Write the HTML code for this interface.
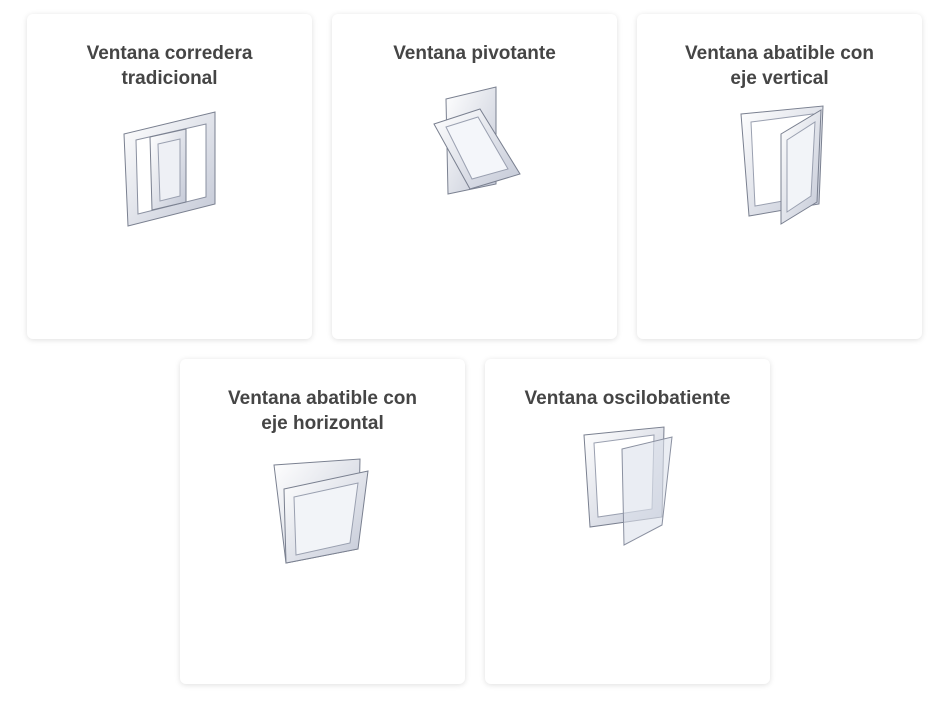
<!DOCTYPE html>
<html><head><meta charset="utf-8"><style>
body{margin:0;width:947px;height:709px;background:#fff;position:relative;overflow:hidden;font-family:"Liberation Sans",sans-serif}
.c{position:absolute;width:285px;height:325px;background:#fff;border-radius:6px;box-shadow:0 1px 6px rgba(0,0,0,.13)}
.t{position:absolute;top:27px;left:0;right:0;text-align:center;font-weight:bold;font-size:19px;line-height:25px;color:#454545}
svg{position:absolute}
</style></head><body>
<svg width="0" height="0"><defs><linearGradient id="g" x1="0" y1="0" x2="1" y2="1"><stop offset="0" stop-color="#fff"/><stop offset="1" stop-color="#c3c8d6"/></linearGradient></defs></svg>

<div class="c" style="left:27px;top:14px"><div class="t">Ventana corredera<br>tradicional</div>
<svg style="left:93px;top:90px" width="100" height="125"><path d="M4,30 L95,8 L95,100 L8,122 Z" fill="url(#g)" stroke="#7a8090"/><path d="M16,36 L86,20 L86,93 L18,110 Z" fill="#fff" stroke="#8a90a0"/><path d="M30,33 L66,25 L66,98 L32,106 Z" fill="url(#g)" stroke="#7a8090"/><path d="M38,40 L60,35 L60,92 L40,97 Z" fill="#eef0f5" stroke="#9aa0b0"/></svg></div>

<div class="c" style="left:332px;top:14px"><div class="t">Ventana pivotante</div>
<svg style="left:98px;top:65px" width="95" height="125"><path d="M16,20 L66,8 L66,105 L18,115 Z" fill="url(#g)" stroke="#7a8090"/><path d="M4,45 L50,30 L90,95 L40,110 Z" fill="url(#g)" stroke="#7a8090"/><path d="M16,48 L48,38 L78,90 L42,100 Z" fill="#f4f6fa" stroke="#9aa0b0"/></svg></div>

<div class="c" style="left:637px;top:14px"><div class="t">Ventana abatible con<br>eje vertical</div>
<svg style="left:100px;top:90px" width="90" height="125"><path d="M4,10 L86,2 L82,100 L12,112 Z" fill="url(#g)" stroke="#7a8090"/><path d="M14,18 L76,10 L74,92 L18,102 Z" fill="#fff" stroke="#9aa0b0"/><path d="M44,30 L84,6 L80,98 L44,120 Z" fill="url(#g)" stroke="#7a8090"/><path d="M50,36 L78,18 L74,92 L50,108 Z" fill="#f2f4f8" stroke="#9aa0b0"/></svg></div>

<div class="c" style="left:180px;top:359px"><div class="t">Ventana abatible con<br>eje horizontal</div>
<svg style="left:92px;top:98px" width="100" height="110"><path d="M2,8 L88,2 L86,92 L14,106 Z" fill="url(#g)" stroke="#7a8090"/><path d="M12,32 L96,14 L86,92 L14,106 Z" fill="url(#g)" stroke="#7a8090"/><path d="M22,40 L86,26 L78,86 L24,98 Z" fill="#f2f4f8" stroke="#9aa0b0"/></svg></div>

<div class="c" style="left:485px;top:359px"><div class="t">Ventana oscilobatiente</div>
<svg style="left:97px;top:66px" width="95" height="125"><path d="M2,10 L82,2 L80,92 L8,102 Z" fill="url(#g)" stroke="#7a8090"/><path d="M12,18 L72,10 L70,84 L16,92 Z" fill="#fff" stroke="#9aa0b0"/><path d="M40,24 L90,12 L80,100 L42,120 Z" fill="rgba(220,225,235,.6)" stroke="#8a90a0"/></svg></div>
</body></html>
